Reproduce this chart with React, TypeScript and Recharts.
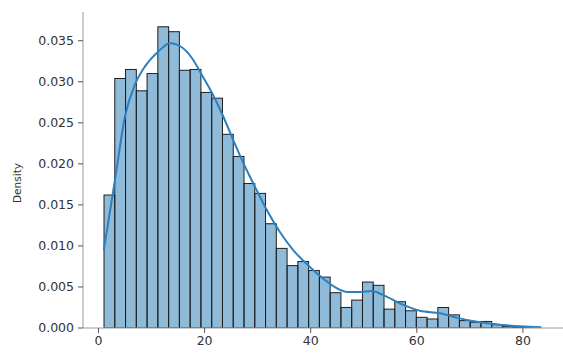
import React from "react";
import { ComposedChart, Bar, Line, XAxis, YAxis } from "recharts";

// histogram bins (40 bins, left edge + width, in data units)
const binStart = 1.04;
const binWidth = 2.03;
const binDensity = [
    0.0162, 0.0304, 0.0315, 0.0289, 0.0310, 0.0367, 0.0361, 0.0314, 0.0315, 0.0287,
    0.0280, 0.0236, 0.0209, 0.0176, 0.0164, 0.0127, 0.0097, 0.0076, 0.0081, 0.0070,
    0.0062, 0.0043, 0.0025, 0.0034, 0.0056, 0.0052, 0.0023, 0.0032, 0.0021, 0.0013,
    0.0011, 0.0025, 0.0016, 0.0009, 0.0007, 0.0008, 0.0004, 0.0002, 0.0001, 0.0001,
];

// kde curve
const kdeX = [
    1.0, 3.1, 5.0, 6.9, 8.8, 11.3, 13.5, 15.7, 17.6, 19.6, 21.5, 23.5, 25.4, 27.3, 29.5,
    31.7, 34.2, 36.7, 39.9, 42.2, 44.5, 46.8, 49.3, 51.5, 53.7, 56.8, 60.6, 64.4, 67.8,
    71.9, 75.7, 79.5, 83.5,
];
const kdeY = [
    0.0095, 0.0180, 0.0258, 0.0297, 0.0319, 0.0337, 0.0347, 0.0342, 0.0329, 0.0307, 0.0285,
    0.0258, 0.0229, 0.0201, 0.0172, 0.0144, 0.0117, 0.0095, 0.0074, 0.0061, 0.0050, 0.0044,
    0.0044, 0.0045, 0.0040, 0.0030, 0.0021, 0.0018, 0.0012, 0.0007, 0.0004, 0.0002, 0.0001,
];

const xTicks = [0, 20, 40, 60, 80];
const yTicks = [0, 0.005, 0.01, 0.015, 0.02, 0.025, 0.03, 0.035];
const xDomain = [-2.92, 87.56];
const yDomain = [0, 0.0385];

const W = 563;
const H = 354;
const Y_AXIS_W = 83;
const PLOT_W = W - Y_AXIS_W;
const PX_PER_UNIT = PLOT_W / (xDomain[1] - xDomain[0]);

const rows = [
    ...binDensity.map((d, i) => ({ x: binStart + (i + 0.5) * binWidth, density: d })),
    ...kdeX.map((x, i) => ({ x, kde: kdeY[i] })),
].sort((a, b) => a.x - b.x);

const font = "'DejaVu Sans', sans-serif";
const axisGray = "#9a9a9a";

// bar centred where recharts put it, but as wide as one bin
function BinRect(props: any) {
    const { x, y, width, height, payload } = props;
    if (payload == null || payload.density == null || !isFinite(height)) return null;
    const w = binWidth * PX_PER_UNIT;
    const cx = x + width / 2;
    return (
        <rect
            x={cx - w / 2}
            y={y}
            width={w}
            height={height}
            fill="#1f77b4"
            fillOpacity={0.5}
            stroke="#1e1e1e"
            strokeWidth={1}
        />
    );
}

export default function App() {
    return (
        <div style={{ position: "absolute", left: 0, top: 0, width: W, height: H, overflow: "hidden", background: "#fff" }}>
            <ComposedChart width={W} height={H} data={rows} margin={{ top: 12, right: 0, bottom: 0, left: 0 }}>
                <XAxis
                    dataKey="x"
                    type="number"
                    domain={xDomain}
                    allowDataOverflow
                    ticks={xTicks}
                    height={26}
                    tickSize={5}
                    tickMargin={3}
                    axisLine={{ stroke: axisGray }}
                    tickLine={{ stroke: "#555" }}
                    tick={{ fontSize: 12.5, fill: "#333", fontFamily: font }}
                />
                <XAxis
                    xAxisId="top"
                    orientation="top"
                    dataKey="x"
                    type="number"
                    domain={xDomain}
                    allowDataOverflow
                    height={0}
                    tick={false}
                    tickLine={false}
                    axisLine={{ stroke: axisGray }}
                />
                <YAxis
                    type="number"
                    domain={yDomain}
                    allowDataOverflow
                    ticks={yTicks}
                    width={Y_AXIS_W}
                    tickSize={5}
                    tickMargin={4}
                    axisLine={{ stroke: axisGray }}
                    tickLine={{ stroke: "#555" }}
                    tick={{ fontSize: 12.5, fill: "#333", fontFamily: font }}
                    tickFormatter={(v: number) => v.toFixed(3)}
                />
                <Bar dataKey="density" shape={BinRect} isAnimationActive={false} />
                <Line
                    type="monotone"
                    dataKey="kde"
                    stroke="#2a80c0"
                    strokeWidth={2}
                    dot={false}
                    connectNulls
                    isAnimationActive={false}
                />
            </ComposedChart>
            <div style={{
                position: "absolute",
                left: 17,
                top: 183,
                transform: "translate(-50%, -50%) rotate(-90deg)",
                fontFamily: font,
                fontSize: 10.5,
                color: "#333",
                whiteSpace: "nowrap",
            }}>
                Density
            </div>
        </div>
    );
}
